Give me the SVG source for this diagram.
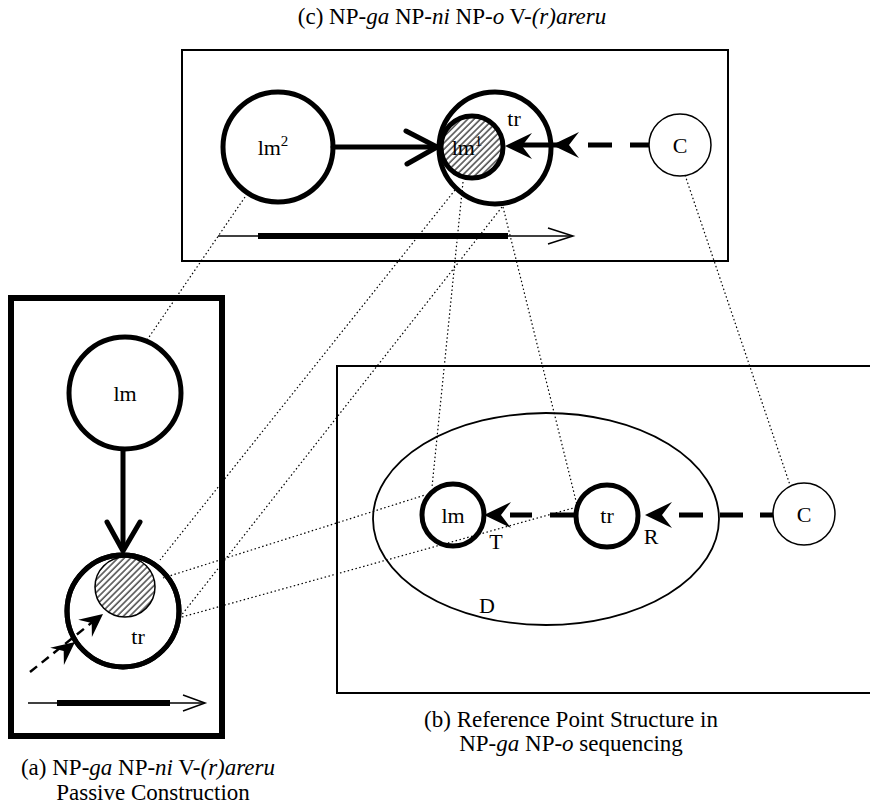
<svg xmlns="http://www.w3.org/2000/svg" xmlns:xlink="http://www.w3.org/1999/xlink" width="870" height="804" viewBox="0 0 870 804">
  <style>
    .frame { fill: none; stroke: #000; stroke-width: 2; }
    .heavy { fill: #fff; stroke: #000; stroke-width: 5; }
    .light { fill: #fff; stroke: #000; stroke-width: 1.5; }
    .ring { fill: none; stroke: #000; stroke-width: 5; }
    .arrow { fill: none; stroke: #000; stroke-width: 5; stroke-linecap: round; stroke-linejoin: round; }
    .dash { fill: none; stroke: #000; stroke-width: 5; }
    .axis { fill: none; stroke: #000; stroke-width: 1.5; }
    .axisbar { fill: none; stroke: #000; stroke-width: 6; }
    .dot { fill: none; stroke: #000; stroke-width: 1.2; stroke-dasharray: 1.5 2.5; }
    .lbl { font-family: "Liberation Serif", "Times New Roman", serif; font-size: 22px; text-anchor: middle; fill: #000; }
    .cap { font-family: "Liberation Serif", "Times New Roman", serif; font-size: 23px; text-anchor: middle; fill: #000; }
  </style>
  <defs>
    <pattern id="hatch" patternUnits="userSpaceOnUse" width="4.5" height="4.5" patternTransform="rotate(45)">
      <rect width="4.5" height="4.5" fill="#fff"/>
      <line x1="1" y1="0" x2="1" y2="4.5" stroke="#555" stroke-width="1.6"/>
    </pattern>
    <path id="chev" d="M0,0 L-27,-13 L-17,0 L-27,13 Z" fill="#000"/>
  </defs>

  <rect width="870" height="804" fill="#fff"/>

  <!-- (c) panel -->
  <g id="panel-c">
    <text class="cap" x="452" y="24">(c) NP-<tspan font-style="italic">ga</tspan> NP-<tspan font-style="italic">ni</tspan> NP-<tspan font-style="italic">o</tspan> V-<tspan font-style="italic">(r)areru</tspan></text>
    <rect class="frame" x="182" y="50" width="546" height="211"/>
  </g>
  <g id="c-lm2">
    <circle class="heavy" cx="278" cy="147" r="55"/>
    <text class="lbl" x="273" y="155">lm<tspan dy="-9" font-size="15">2</tspan></text>
  </g>
  <g id="c-tr">
    <circle class="heavy" cx="495" cy="148" r="56"/>
    <text class="lbl" x="514" y="126">tr</text>
  </g>
  <g id="c-lm1">
    <circle cx="472" cy="147" r="31" fill="url(#hatch)" stroke="#000" stroke-width="5"/>
    <text class="lbl" x="467" y="155">lm<tspan dy="-9" font-size="15">1</tspan></text>
  </g>
  <g id="c-C">
    <circle class="light" cx="680" cy="145" r="31"/>
    <text class="lbl" x="680" y="153">C</text>
  </g>
  <g id="c-time">
    <line class="axis" x1="218" y1="236" x2="572" y2="236"/>
    <line class="axisbar" x1="258" y1="236" x2="508" y2="236"/>
    <polyline class="axis" points="548,228 573,236 548,244"/>
  </g>

  <!-- (a) panel -->
  <g id="panel-a">
    <rect x="11" y="298" width="211" height="438" fill="none" stroke="#000" stroke-width="6"/>
    <text class="cap" x="148" y="775">(a) NP-<tspan font-style="italic">ga</tspan> NP-<tspan font-style="italic">ni</tspan> V-<tspan font-style="italic">(r)areru</tspan></text>
    <text class="cap" x="153" y="800">Passive Construction</text>
  </g>
  <g id="a-lm">
    <circle class="heavy" cx="125" cy="393" r="56"/>
    <text class="lbl" x="125" y="401">lm</text>
  </g>
  <g id="a-tr">
    <circle class="heavy" cx="123" cy="611" r="56"/>
    <circle cx="125" cy="587" r="30" fill="url(#hatch)" stroke="#000" stroke-width="1.5"/>
    <circle class="ring" cx="123" cy="611" r="56"/>
    <text class="lbl" x="138" y="644">tr</text>
  </g>
  <g id="a-time">
    <line class="axis" x1="28" y1="703" x2="204" y2="703"/>
    <line class="axisbar" x1="57" y1="703" x2="170" y2="703"/>
    <polyline class="axis" points="183,695 205,703 183,711"/>
  </g>

  <!-- (b) panel -->
  <g id="panel-b">
    <rect class="frame" x="337" y="366" width="545" height="327"/>
    <text class="cap" x="571" y="727">(b) Reference Point Structure in</text>
    <text class="cap" x="571" y="751">NP-<tspan font-style="italic">ga</tspan> NP-<tspan font-style="italic">o</tspan> sequencing</text>
  </g>
  <g id="b-D">
    <ellipse cx="546" cy="519" rx="173" ry="106" fill="none" stroke="#000" stroke-width="1.8"/>
    <text class="lbl" x="487" y="613">D</text>
  </g>
  <g id="b-lm">
    <circle class="heavy" cx="453" cy="515" r="31"/>
    <text class="lbl" x="453" y="523">lm</text>
  </g>
  <g id="b-tr">
    <circle class="heavy" cx="607" cy="516" r="31"/>
    <text class="lbl" x="607" y="523">tr</text>
  </g>
  <g id="b-C">
    <circle class="light" cx="804" cy="514" r="31"/>
    <text class="lbl" x="804" y="522">C</text>
  </g>
  <g id="b-marks">
    <text class="lbl" x="496" y="549">T</text>
    <text class="lbl" x="651" y="544">R</text>
  </g>

  <!-- connectors -->
  <g id="connectors">
    <!-- (c) lm2 to lm1 -->
    <line class="arrow" x1="333" y1="147" x2="436" y2="147"/>
    <polyline class="arrow" points="406,131 437,147 407,164"/>
    <!-- (c) C to lm1, dashed with two heads -->
    <path class="dash" d="M649,145 L630,145 M612,145 L588,145 M560,145 L520,145"/>
    <use xlink:href="#chev" transform="translate(552,145) rotate(180)"/>
    <use xlink:href="#chev" transform="translate(505,146) rotate(180)"/>

    <!-- (a) lm to tr -->
    <line class="arrow" x1="123" y1="450" x2="123" y2="548"/>
    <polyline class="arrow" points="107,522 123,551 140,522"/>
    <!-- (a) dashed entry arrow -->
    <line x1="30" y1="672" x2="100" y2="616" stroke="#000" stroke-width="2.5" stroke-dasharray="9 6"/>
    <use xlink:href="#chev" transform="translate(75,642) rotate(-38.5) scale(0.85)"/>
    <use xlink:href="#chev" transform="translate(103,614) rotate(-38.5) scale(0.85)"/>

    <!-- (b) C to tr to lm -->
    <path class="dash" d="M773,515 L760,515 M743,515 L720,515 M703,515 L679,515"/>
    <use xlink:href="#chev" transform="translate(645,515) rotate(180)"/>
    <path class="dash" d="M576,515 L550,515 M532,515 L510,515"/>
    <use xlink:href="#chev" transform="translate(484,515) rotate(180)"/>

    <!-- correspondence lines -->
    <line class="dot" x1="245" y1="197" x2="147" y2="340"/>
    <line class="dot" x1="455" y1="190" x2="160" y2="560"/>
    <line class="dot" x1="502" y1="207" x2="180" y2="617"/>
    <line class="dot" x1="463" y1="182" x2="432" y2="487"/>
    <line class="dot" x1="503" y1="207" x2="577" y2="505"/>
    <line class="dot" x1="685" y1="175" x2="790" y2="485"/>
    <line class="dot" x1="163" y1="578" x2="425" y2="495"/>
    <line class="dot" x1="182" y1="617" x2="577" y2="507"/>
  </g>
</svg>
